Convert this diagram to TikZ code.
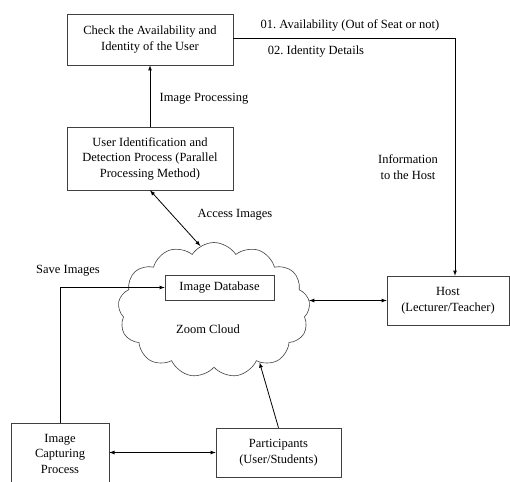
\documentclass[tikz,border=0pt]{standalone}
\usepackage{fontspec}
\setmainfont{Liberation Serif}
\usepackage{tikz}
\usetikzlibrary{arrows,positioning,shapes,shapes.symbols,calc}
\tikzstyle{procbox}=[draw=black!75,semithick,align=center,inner sep=0pt]
\tikzstyle{lbl}=[align=center,inner sep=1pt]
\tikzstyle{conn}=[line width=0.8pt,>=latex]

\begin{document}
\begin{tikzpicture}[x=1pt,y=-1pt,every node/.style={font=\fontsize{12.5}{15.5}\selectfont}]
      \useasboundingbox (0,0) rectangle (510,481);
      % boxes
      \node[procbox,minimum width=166pt,minimum height=51pt] at (150,39.5) (check) {Check the Availability and\\Identity of the User};
      \node[procbox,minimum width=166pt,minimum height=63pt] at (150,158.5) (ident) {User Identification and\\Detection Process (Parallel\\Processing Method)};
      \node[cloud,draw=black!75,semithick,cloud puffs=13,cloud puff arc=115,cloud ignores aspect,minimum width=192pt,minimum height=135pt] at (214,310) (cloud) {};
      \node[procbox,minimum width=109pt,minimum height=25pt] at (219.5,287.5) (imgdb) {Image Database};
      \node[lbl] at (208,329) (zoom) {Zoom Cloud};
      \node[procbox,minimum width=122pt,minimum height=49pt] at (448,300.5) (host) {Host\\(Lecturer/Teacher)};
      \node[procbox,minimum width=98pt,minimum height=61pt] at (60,453.5) (capture) {Image\\Capturing\\Process};
      \node[procbox,minimum width=125pt,minimum height=49pt] at (278.5,452.5) (parts) {Participants\\(User/Students)};
      \coordinate (corner) at (455,38);
      % labels
      \node[lbl] at (204,99) (lproc) {Image Processing};
      \node[lbl] at (350,25) (lavail) {01.\ Availability (Out of Seat or not)};
      \node[lbl] at (316,52) (lid) {02.\ Identity Details};
      \node[lbl] at (408,167) (linfo) {Information\\to the Host};
      \node[lbl] at (235,215) (lacc) {Access Images};
      \node[lbl] at (68,271) (lsave) {Save Images};
      % connectors
      \draw[conn,->] (ident) -- (check);
      \draw[conn,->] (check.east |- corner) -- (corner) -- (host.north -| corner);
      \draw[conn,<->] (ident.south) -- (cloud.102);
      \draw[conn,<->] (cloud.east |- host.west) -- (host.west);
      \draw[conn,->] (capture.north) |- (imgdb.west);
      \draw[conn,<->] (parts.west -| capture.east) -- (parts.west);
      \draw[conn,->] (parts.north) -- (cloud.-49);
\end{tikzpicture}
\end{document}
